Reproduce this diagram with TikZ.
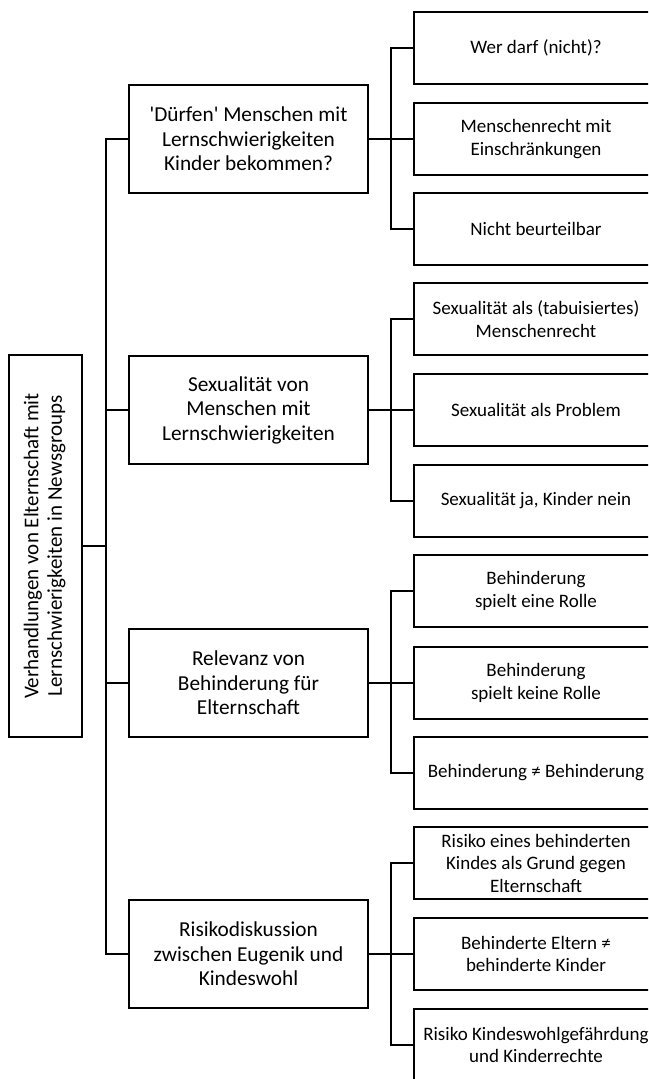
\documentclass[tikz,border=0pt]{standalone}
\usepackage{fontspec}
\setmainfont{Carlito}[Ligatures=TeXOff]
\begin{document}
\begin{tikzpicture}[x=1pt,y=-1pt,
  box/.style={draw, line width=2.2pt, fill=white, align=center, inner sep=0pt,
    font=\fontsize{19}{22.5}\selectfont},
  topic/.style={box, minimum width=239pt, minimum height=108pt,
    font=\fontsize{21.3}{24.5}\selectfont},
  leaf/.style={box, minimum width=244pt, minimum height=72pt},
  link/.style={line width=2.2pt, line join=miter}]
\useasboundingbox (0,0) rectangle (648,1079);
\clip (0,0) rectangle (648,1079);

% root (text set vertically)
\node[box, minimum width=73pt, minimum height=382pt, font=\fontsize{21}{23.5}\selectfont] (root) at (45.5,546)
  {\rotatebox{90}{\begin{tabular}{@{}c@{}}Verhandlungen von Elternschaft mit\\Lernschwierigkeiten in Newsgroups\end{tabular}}};

% main topics
\node[topic] (t1) at (248.5,139) {'Dürfen' Menschen mit\\Lernschwierigkeiten\\Kinder bekommen?};
\node[topic] (t2) at (248.5,410) {Sexualität von\\Menschen mit\\Lernschwierigkeiten};
\node[topic] (t3) at (248.5,683) {Relevanz von\\Behinderung für\\Elternschaft};
\node[topic] (t4) at (248.5,954) {Risikodiskussion\\zwischen Eugenik und\\Kindeswohl};

% sub topics
\node[leaf] (l11) at (536,48)   {Wer darf (nicht)?};
\node[leaf] (l12) at (536,139)  {Menschenrecht mit\\Einschränkungen};
\node[leaf] (l13) at (536,229)  {Nicht beurteilbar};
\node[leaf] (l21) at (536,319)  {Sexualität als (tabuisiertes)\\Menschenrecht};
\node[leaf] (l22) at (536,410)  {Sexualität als Problem};
\node[leaf] (l23) at (536,501)  {Sexualität ja, Kinder nein};
\node[leaf] (l31) at (536,591)  {Behinderung\\spielt eine Rolle};
\node[leaf] (l32) at (536,683)  {Behinderung\\spielt keine Rolle};
\node[leaf] (l33) at (536,773)  {Behinderung ≠ Behinderung};
\node[leaf] (l41) at (536,863)  {Risiko eines behinderten\\Kindes als Grund gegen\\Elternschaft};
\node[leaf] (l42) at (536,954)  {Behinderte Eltern ≠\\behinderte Kinder};
\node[leaf] (l43) at (536,1045) {Risiko Kindeswohlgefährdung\\und Kinderrechte};

% branching points
\coordinate (hub) at (106,546);
\coordinate (j1) at (391,139);
\coordinate (j2) at (391,410);
\coordinate (j3) at (391,683);
\coordinate (j4) at (391,954);

% root to main topics
\draw[link] (root.east) -- (hub);
\foreach \t in {t1,t2,t3,t4} \draw[link] (hub) |- (\t.west);

% main topics to sub topics
\foreach \g in {1,2,3,4} {
  \draw[link] (t\g.east) -- (j\g);
  \foreach \k in {1,2,3} \draw[link] (j\g) |- (l\g\k.west);
}
\end{tikzpicture}
\end{document}
